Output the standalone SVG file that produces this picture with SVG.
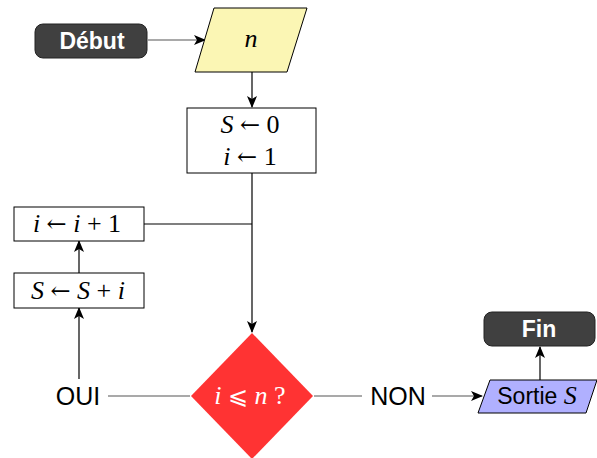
<svg xmlns="http://www.w3.org/2000/svg" width="597" height="458" viewBox="0 0 597 458">
  <defs>
    <marker id="arr" viewBox="0 0 12 10" refX="11" refY="5" markerWidth="12" markerHeight="10" markerUnits="userSpaceOnUse" orient="auto">
      <path d="M0,0 L12,5 L0,10 L3,5 Z" fill="#000"/>
    </marker>
    <style>
      .edge { fill: none; stroke: #000; stroke-width: 1.2; }
      .grey { stroke: #555; }
      .term { fill: #404040; stroke: #222; stroke-width: 1; }
      .proc { fill: #fff; stroke: #000; stroke-width: 1; }
      .sans { font-family: "Liberation Sans", Arimo, sans-serif; }
      .bold { font-weight: bold; fill: #fff; font-size: 23px; }
      .lbl { font-size: 25px; }
      .math { font-family: "Liberation Serif", "DejaVu Serif", serif; font-size: 26px; }
      .it { font-style: italic; }
      .op { font-family: "DejaVu Serif", serif; font-size: 24px; }
    </style>
  </defs>

  <!-- connectors -->
  <g id="connectors">
    <line class="edge grey" x1="148" y1="40" x2="205" y2="40" marker-end="url(#arr)"/>
    <line class="edge" x1="252" y1="72" x2="252" y2="107" marker-end="url(#arr)"/>
    <line class="edge" x1="252" y1="173" x2="252" y2="332" marker-end="url(#arr)"/>
    <line class="edge" x1="144" y1="224" x2="252" y2="224"/>
    <line class="edge" x1="79" y1="273" x2="79" y2="241" marker-end="url(#arr)"/>
    <line class="edge" x1="79" y1="379" x2="79" y2="308" marker-end="url(#arr)"/>
    <line class="edge grey" x1="108" y1="396" x2="190" y2="396"/>
    <line class="edge grey" x1="314" y1="396" x2="362" y2="396"/>
    <line class="edge grey" x1="432" y1="396" x2="482" y2="396" marker-end="url(#arr)"/>
    <line class="edge" x1="540" y1="380" x2="540" y2="347" marker-end="url(#arr)"/>
  </g>

  <g id="debut">
    <rect class="term" x="35" y="24" width="112" height="34" rx="8"/>
    <text class="sans bold" x="92" y="49" text-anchor="middle">Début</text>
  </g>

  <g id="input-n">
    <polygon points="214,8 307,8 287,72 195,72" fill="#fbf6b4" stroke="#000" stroke-width="1"/>
    <text class="math it" x="251" y="47" text-anchor="middle">n</text>
  </g>

  <g id="init">
    <rect class="proc" x="187" y="108" width="129" height="65"/>
    <text class="math" x="250" y="133" text-anchor="middle"><tspan class="it">S</tspan> <tspan class="op">←</tspan> 0</text>
    <text class="math" x="250" y="165" text-anchor="middle"><tspan class="it">i</tspan> <tspan class="op">←</tspan> 1</text>
  </g>

  <g id="incr-i">
    <rect class="proc" x="14" y="207" width="130" height="34"/>
    <text class="math" x="77" y="232" text-anchor="middle"><tspan class="it">i</tspan> <tspan class="op">←</tspan> <tspan class="it">i</tspan> + 1</text>
  </g>

  <g id="add-s">
    <rect class="proc" x="14" y="273" width="130" height="35"/>
    <text class="math" x="78" y="299" text-anchor="middle"><tspan class="it">S</tspan> <tspan class="op">←</tspan> <tspan class="it">S</tspan> + <tspan class="it">i</tspan></text>
  </g>

  <g id="test">
    <polygon points="252,333 313,396 252,459 191,396" fill="#ff3333"/>
    <text class="math" x="250" y="404" text-anchor="middle" fill="#fff"><tspan class="it">i</tspan> <tspan class="op">⩽</tspan> <tspan class="it">n</tspan> ?</text>
  </g>

  <g id="label-oui">
    <text class="sans lbl" x="78" y="405" text-anchor="middle">OUI</text>
  </g>

  <g id="label-non">
    <text class="sans lbl" x="398" y="405" text-anchor="middle">NON</text>
  </g>

  <g id="sortie">
    <polygon points="490,380 597,380 586,413 478,413" fill="#b0b0ff" stroke="#000" stroke-width="1"/>
    <text class="sans" x="537" y="404" text-anchor="middle" font-size="23">Sortie <tspan class="math it" font-size="24">S</tspan></text>
  </g>

  <g id="fin">
    <rect class="term" x="484" y="312" width="111" height="34" rx="8"/>
    <text class="sans bold" x="539" y="337" text-anchor="middle">Fin</text>
  </g>
</svg>
